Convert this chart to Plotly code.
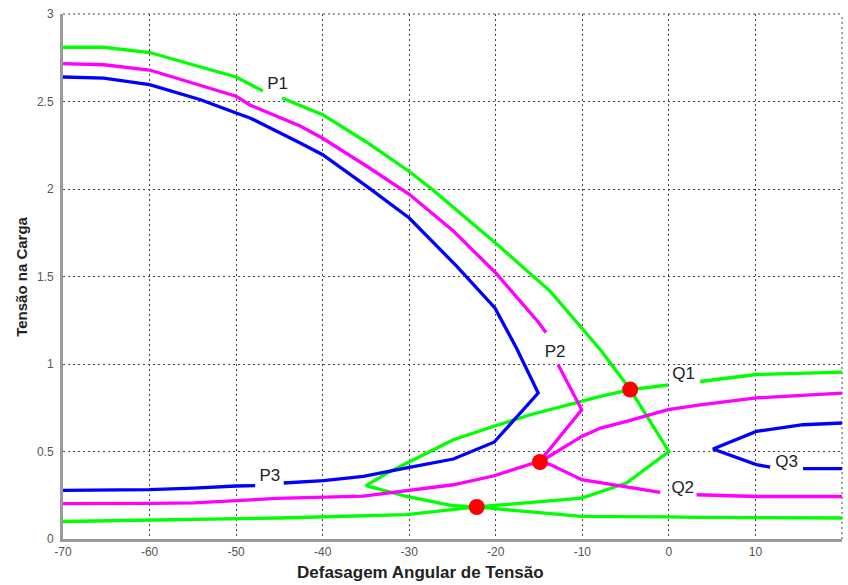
import plotly.graph_objects as go

# ---------------- data ----------------
# Green P1 curve (upper branch -> nose -> lower branch); None = gap for label
p1_x = [-70, -65.3, -60, -50, -46.9, None, -44.7, -40, -35, -30, -27.4, -20, -13.7, -7.9, -4.47, 0,
        -4.9, -10.07, -22.2, -24.9, -30.3, -45, -60, -70]
p1_y = [2.81, 2.81, 2.78, 2.64, 2.56, None, 2.52, 2.425, 2.27, 2.10, 2.0, 1.69, 1.415, 1.08, 0.854, 0.50,
        0.32, 0.234, 0.183, 0.167, 0.139, 0.12, 0.106, 0.10]

# Green Q1 curve
q1_x = [20.1, 10.1, 3.6, None, -0.07, -4.47, -7.94, -16.0, -20.3, -24.9, -32.2, -35.0,
        -30.3, -24.9, -22.2, -10.1, -0.25, 3.6, 20.1]
q1_y = [0.954, 0.94, 0.90, None, 0.88, 0.854, 0.815, 0.71, 0.643, 0.567, 0.386, 0.305,
        0.243, 0.19, 0.183, 0.129, 0.127, 0.124, 0.12]

# Magenta P2 curve
p2_x = [-70, -65.3, -60, -50, -48.4, -42.6, -40, -34.9, -30, -24.9, -20, -15.1, -14.2, None,
        -12.8, -10.07, -14.9, -20.3, -24.9, -30.3, -35.3, -45.3, -50, -54.9, -60, -70]
p2_y = [2.716, 2.71, 2.68, 2.53, 2.48, 2.36, 2.29, 2.13, 1.97, 1.76, 1.52, 1.24, 1.18, None,
        0.996, 0.739, 0.445, 0.36, 0.31, 0.276, 0.245, 0.232, 0.22, 0.206, 0.204, 0.202]

# Magenta Q2 curve
q2_x = [20.1, 10.1, 3.6, -0.1, -4.9, -7.9, -10.07, -14.9, -13.7, -10.07, -1.0, None, 3.2, 10.1, 20.1]
q2_y = [0.834, 0.806, 0.767, 0.739, 0.672, 0.634, 0.586, 0.44, 0.425, 0.339, 0.266, None, 0.253, 0.243, 0.243]

# Blue P3 curve
p3_x = [-70, -65.3, -60, -54.1, -50, -48.4, -42.6, -40, -34.9, -30, -24.5, -20.1, -17.6, -15.1,
        -20.2, -24.9, -30.3, -35.3, -39.9, -44.5, None, -47.8, -50, -54.9, -60, -70]
p3_y = [2.64, 2.634, 2.596, 2.51, 2.434, 2.406, 2.263, 2.196, 2.015, 1.834, 1.558, 1.32, 1.09, 0.834,
        0.553, 0.457, 0.406, 0.358, 0.333, 0.32, None, 0.305, 0.303, 0.291, 0.282, 0.278]

# Blue Q3 curve
q3_x = [20.1, 15.5, 10.1, 5.1, 10.1, 11.7, None, 15.5, 20.1]
q3_y = [0.663, 0.653, 0.615, 0.514, 0.425, 0.411, None, 0.402, 0.402]

# Operating points (intersections)
pts_x = [-4.47, -14.9, -22.2]
pts_y = [0.854, 0.44, 0.183]

# Curve labels
lab_text = ["P1", "P2", "P3", "Q1", "Q2", "Q3"]
lab_x = [-45.2, -13.15, -46.1, 1.7, 1.6, 13.6]
lab_y = [2.595, 1.065, 0.353, 0.936, 0.285, 0.436]

x_ticks = [-70, -60, -50, -40, -30, -20, -10, 0, 10, 20]
y_ticks = [0, 0.5, 1, 1.5, 2, 2.5, 3]
y_tick_text = ["0", "0.5", "1", "1.5", "2", "2.5", "3"]

GREEN = "#00ff00"
MAGENTA = "#ff00ff"
BLUE = "#0000ff"
RED = "#ff0000"
GRIDC = "#444444"
DOT = "2px,3px"

fig = go.Figure()
for xs, ys, c in [(p1_x, p1_y, GREEN), (q1_x, q1_y, GREEN),
                  (p2_x, p2_y, MAGENTA), (q2_x, q2_y, MAGENTA),
                  (p3_x, p3_y, BLUE), (q3_x, q3_y, BLUE)]:
    fig.add_trace(go.Scatter(x=xs, y=ys, mode="lines", connectgaps=False,
                             line=dict(color=c, width=3.3), hoverinfo="skip", showlegend=False))

fig.add_trace(go.Scatter(x=pts_x, y=pts_y, mode="markers",
                         marker=dict(color=RED, size=16, line=dict(width=0)),
                         showlegend=False, hoverinfo="skip"))

fig.add_trace(go.Scatter(x=lab_x, y=lab_y, mode="text", text=lab_text,
                         textfont=dict(family="Liberation Sans, Arial", size=17, color="#222222"),
                         showlegend=False, hoverinfo="skip"))

grid = dict(showgrid=True, gridcolor=GRIDC, gridwidth=1, griddash=DOT)

fig.update_xaxes(range=[-70, 20], tickvals=x_ticks, ticktext=[str(v) for v in x_ticks],
                 showline=True, linecolor="#9a9a9a", linewidth=3, zeroline=False,
                 ticks="", tickfont=dict(family="Liberation Sans, Arial", size=12, color="#555555"),
                 **grid)
fig.update_yaxes(range=[0, 3], tickvals=y_ticks, ticktext=y_tick_text,
                 showline=True, linecolor="#9a9a9a", linewidth=3, zeroline=False,
                 ticks="", ticklabelstandoff=4,
                 tickfont=dict(family="Liberation Sans, Arial", size=12, color="#555555"),
                 **grid)

# dotted frame lines at the top (y=3) and right (x=20) edges, like the grid
fig.add_shape(type="line", xref="paper", yref="paper", x0=0, x1=1, y0=1, y1=1,
              line=dict(color=GRIDC, width=1, dash=DOT), layer="below")
fig.add_shape(type="line", xref="paper", yref="paper", x0=1, x1=1, y0=0, y1=1,
              line=dict(color=GRIDC, width=1, dash=DOT), layer="below")

fig.add_annotation(text="<b>Defasagem Angular de Tensão</b>", xref="paper", yref="paper",
                   x=0.4585, y=-0.0645, xanchor="center", yanchor="middle", showarrow=False,
                   font=dict(family="Liberation Sans, Arial", size=17, color="#222222"))
fig.add_annotation(text="<b>Tensão na Carga</b>", xref="paper", yref="paper",
                   x=-0.0535, y=0.5, xanchor="center", yanchor="middle", showarrow=False,
                   textangle=-90,
                   font=dict(family="Liberation Sans, Arial", size=15, color="#222222"))

fig.update_layout(width=848, height=585, plot_bgcolor="white", paper_bgcolor="white",
                  margin=dict(l=63, r=6, t=14, b=46), showlegend=False)

fig.write_html("out.html")
